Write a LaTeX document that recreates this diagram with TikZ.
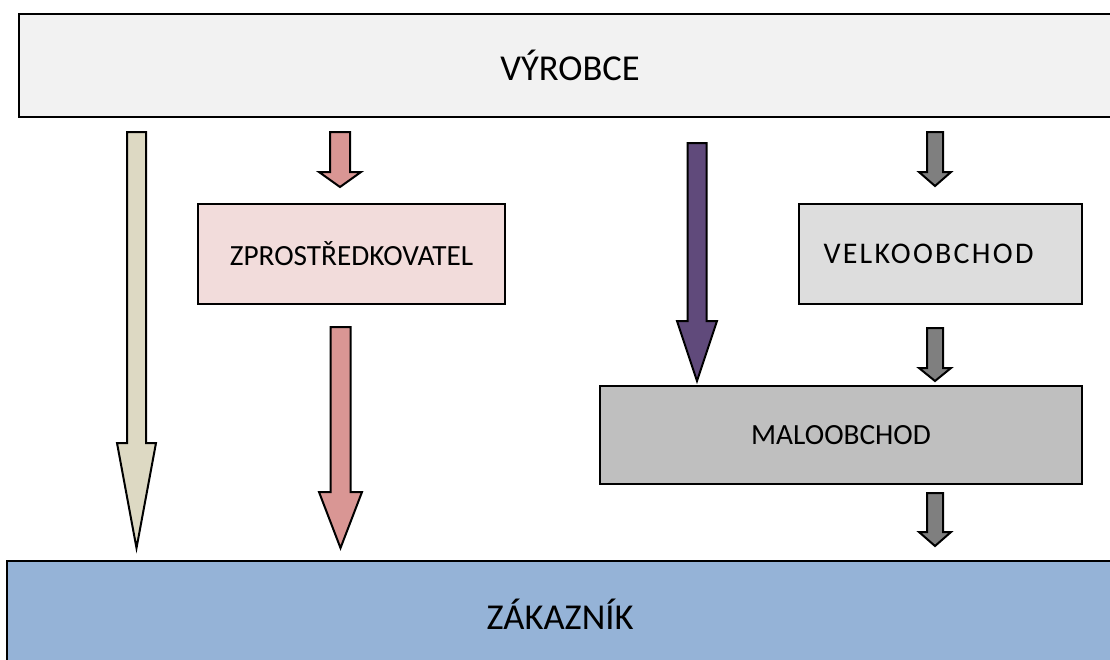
\documentclass[tikz,border=0pt]{standalone}
\usepackage{fontspec}
\setmainfont{Carlito}
\usetikzlibrary{calc}
\definecolor{cvyr}{HTML}{F2F2F2}
\definecolor{czak}{HTML}{95B3D7}
\definecolor{czpr}{HTML}{F2DCDB}
\definecolor{cvel}{HTML}{DDDDDD}
\definecolor{cmal}{HTML}{BFBFBF}
\definecolor{abeige}{HTML}{DDD9C3}
\definecolor{apink}{HTML}{D99694}
\definecolor{apurple}{HTML}{604A7B}
\definecolor{agray}{HTML}{7F7F7F}
\tikzset{
  box/.style={draw=black, line width=2pt, rectangle, inner sep=0pt, text=black},
  bigtext/.style={font=\fontsize{36.5}{40}\selectfont},
  smalltext/.style={font=\fontsize{29.3}{32}\selectfont},
  arrowline/.style={draw=black, line width=2pt, line join=miter},
}
% #1 start, #2 tip, #3 fill, #4 head length, #5 shaft half width, #6 head half width
\newcommand\blockarrow[6]{%
  \draw[arrowline, fill=#3] let \p1=(#1), \p2=(#2) in
    (\x1-#5pt,\y1) -- (\x1+#5pt,\y1) -- (\x1+#5pt,\y2+#4pt) -- (\x1+#6pt,\y2+#4pt)
    -- (\x1,\y2) -- (\x1-#6pt,\y2+#4pt) -- (\x1-#5pt,\y2+#4pt) -- cycle;}
\begin{document}
\begin{tikzpicture}[x=1pt,y=-1pt]
\useasboundingbox (0,0) rectangle (1110,659);
\clip (0,0) rectangle (1110,659);
\fill[white] (0,0) rectangle (1110,659);

\node[box, bigtext, fill=cvyr, minimum width=1102pt, minimum height=103pt] (vyrobce) at (570,65.5) {VÝROBCE};
\node[box, bigtext, fill=czak, minimum width=1106pt, minimum height=106pt] (zakaznik) at (560,614) {ZÁKAZNÍK};
\node[box, smalltext, fill=czpr, minimum width=307pt, minimum height=100pt] (zpro) at (351.5,254) {ZPROSTŘEDKOVATEL};
\node[box, fill=cvel, minimum width=283pt, minimum height=100pt] (velko) at (940.5,254) {};
\node[font=\fontsize{30}{32}\selectfont, inner sep=0pt, text=black] (velkotext) at ($(velko.center)+(-12,0)$)
  {\addfontfeature{LetterSpace=7.5}VELKOOBCHOD};
\node[box, smalltext, fill=cmal, minimum width=482pt, minimum height=98pt] (malo) at (841,435) {MALOOBCHOD};

\coordinate (a1s) at (136.5,132); \coordinate (a1t) at (136.5,548);
\coordinate (a2s) at (340,132);   \coordinate (a2t) at (340,187);
\coordinate (a3s) at (340.5,327); \coordinate (a3t) at (340.5,548);
\coordinate (a4s) at (697,143);   \coordinate (a4t) at (697,381);
\coordinate (a5s) at (935,132);   \coordinate (a5t) at (935,186);
\coordinate (a6s) at (935,328);   \coordinate (a6t) at (935,381);
\coordinate (a7s) at (935,493);   \coordinate (a7t) at (935,546);

\blockarrow{a1s}{a1t}{abeige}{105}{9.5}{19.5}
\blockarrow{a2s}{a2t}{apink}{15}{10}{21}
\blockarrow{a3s}{a3t}{apink}{56}{10}{21.5}
\blockarrow{a4s}{a4t}{apurple}{60}{9.5}{20}
\blockarrow{a5s}{a5t}{agray}{14}{8}{16}
\blockarrow{a6s}{a6t}{agray}{13}{8}{16}
\blockarrow{a7s}{a7t}{agray}{14}{8}{16}
\end{tikzpicture}
\end{document}
